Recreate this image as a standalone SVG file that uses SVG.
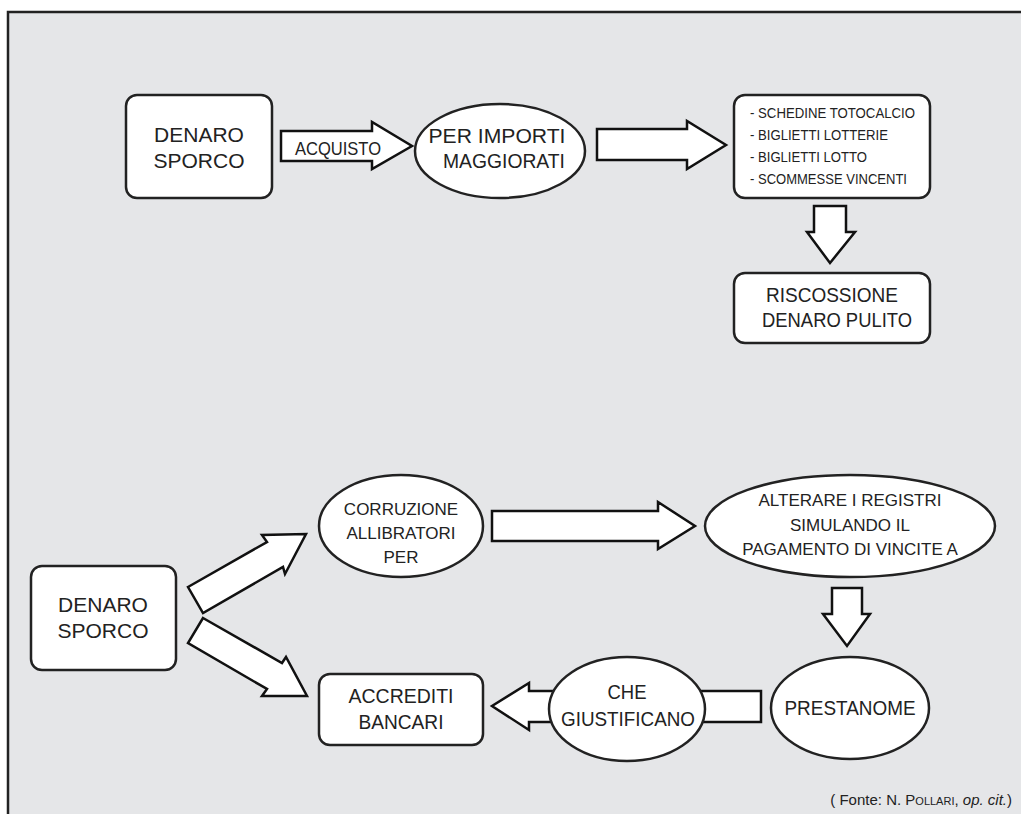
<svg xmlns="http://www.w3.org/2000/svg" width="1021" height="814" viewBox="0 0 1021 814">
<style>
.bg{fill:#e5e6e8;}
.frame{fill:none;stroke:#222;stroke-width:2.5;}
.n{fill:#fff;stroke:#222;stroke-width:2.5;}
.a{fill:#fff;stroke:#111;stroke-width:2.5;stroke-linejoin:miter;}
text{font-family:"Liberation Sans",Arial,sans-serif;fill:#222;text-anchor:middle;}
.t20{font-size:21px;}
.t17{font-size:17px;}
.t16{font-size:19px;}
.t14{font-size:15px;text-anchor:start;}
.src{font-size:15px;text-anchor:end;}
</style>
<rect x="0" y="0" width="1021" height="814" fill="#fff"/>
<rect class="bg" x="8" y="12" width="1013" height="802"/>
<path class="frame" d="M8,814 V12 H1021"/>

<g id="connectors">
  <polygon class="a" points="281,131 372,131 372,122 412,146 372,169 372,161 281,161"/>
  <polygon class="a" points="597,129 687,129 687,121 726,145 687,169 687,160 597,160"/>
  <polygon class="a" points="814,206 846,206 846,232 855,232 830,263 807,232 814,232"/>
  <polygon class="a" points="188,587 267,542 262,535 306,534 285,574 283,567 203,613"/>
  <polygon class="a" points="203,618 282,663 286,657 307,696 262,696 267,689 188,643"/>
  <polygon class="a" points="492,511 658,511 658,502 695,526 658,549 658,541 492,541"/>
  <polygon class="a" points="832,588 862,588 862,614 870,614 847,646 823,614 832,614"/>
  <polygon class="a" points="761,691 761,722 529,722 529,730 492,706 529,683 529,691"/>
</g>

<g id="n-denaro-top">
  <rect class="n" x="126" y="95" width="146" height="103" rx="11"/>
  <text class="t20" x="199" y="142">DENARO</text>
  <text class="t20" x="199" y="168">SPORCO</text>
</g>
<g id="l-acquisto">
  <text class="t16" x="338" y="155" textLength="86" lengthAdjust="spacingAndGlyphs">ACQUISTO</text>
</g>
<g id="n-importi">
  <ellipse class="n" cx="500" cy="151" rx="85" ry="47"/>
  <text class="t20" x="497" y="143" textLength="137" lengthAdjust="spacingAndGlyphs">PER IMPORTI</text>
  <text class="t20" x="504" y="168" textLength="122" lengthAdjust="spacingAndGlyphs">MAGGIORATI</text>
</g>
<g id="n-list">
  <rect class="n" x="734" y="95" width="196" height="103" rx="11"/>
  <text class="t14" x="750" y="118" textLength="165" lengthAdjust="spacingAndGlyphs">- SCHEDINE TOTOCALCIO</text>
  <text class="t14" x="750" y="140" textLength="138" lengthAdjust="spacingAndGlyphs">- BIGLIETTI LOTTERIE</text>
  <text class="t14" x="750" y="162" textLength="117" lengthAdjust="spacingAndGlyphs">- BIGLIETTI LOTTO</text>
  <text class="t14" x="750" y="184" textLength="157" lengthAdjust="spacingAndGlyphs">- SCOMMESSE VINCENTI</text>
</g>
<g id="n-riscossione">
  <rect class="n" x="734" y="273" width="196" height="70" rx="11"/>
  <text class="t20" x="832" y="302" textLength="132" lengthAdjust="spacingAndGlyphs">RISCOSSIONE</text>
  <text class="t20" x="837" y="327" textLength="150" lengthAdjust="spacingAndGlyphs">DENARO PULITO</text>
</g>

<g id="n-denaro-bottom">
  <rect class="n" x="31" y="566" width="145" height="104" rx="11"/>
  <text class="t20" x="103" y="612">DENARO</text>
  <text class="t20" x="103" y="638">SPORCO</text>
</g>
<g id="n-corruzione">
  <ellipse class="n" cx="401" cy="526" rx="82" ry="51"/>
  <text class="t17" x="401" y="515">CORRUZIONE</text>
  <text class="t17" x="401" y="539">ALLIBRATORI</text>
  <text class="t17" x="401" y="563">PER</text>
</g>
<g id="n-alterare">
  <ellipse class="n" cx="850" cy="526" rx="145" ry="51"/>
  <text class="t17" x="850" y="506">ALTERARE I REGISTRI</text>
  <text class="t17" x="850" y="531">SIMULANDO IL</text>
  <text class="t17" x="850" y="555">PAGAMENTO DI VINCITE A</text>
</g>
<g id="n-prestanome">
  <ellipse class="n" cx="850" cy="708" rx="79" ry="51"/>
  <text class="t20" x="850" y="715" textLength="131" lengthAdjust="spacingAndGlyphs">PRESTANOME</text>
</g>
<g id="n-giustificano">
  <ellipse class="n" cx="627" cy="709" rx="78" ry="52"/>
  <text class="t20" x="627" y="699" textLength="39" lengthAdjust="spacingAndGlyphs">CHE</text>
  <text class="t20" x="628" y="726" textLength="134" lengthAdjust="spacingAndGlyphs">GIUSTIFICANO</text>
</g>
<g id="n-accrediti">
  <rect class="n" x="319" y="674" width="164" height="71" rx="11"/>
  <text class="t20" x="401" y="703" textLength="105" lengthAdjust="spacingAndGlyphs">ACCREDITI</text>
  <text class="t20" x="401" y="729" textLength="85" lengthAdjust="spacingAndGlyphs">BANCARI</text>
</g>

<text class="src" x="1012" y="805">( Fonte: N. P<tspan font-size="11">OLLARI</tspan>, <tspan font-style="italic">op. cit.</tspan>)</text>
</svg>
